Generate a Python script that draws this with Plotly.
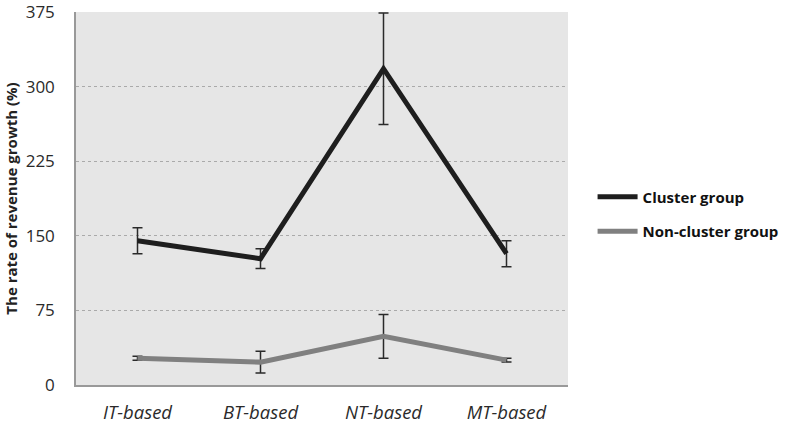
import plotly.graph_objects as go

categories = ["IT-based", "BT-based", "NT-based", "MT-based"]
cluster_vals = [145, 127, 318, 132]
cluster_err = [13, 10, 56, 13]
noncluster_vals = [27, 23, 49, 25]
noncluster_err = [2, 11, 22, 2]
y_ticks = [0, 75, 150, 225, 300, 375]

font = "Open Sans"

fig = go.Figure()
fig.add_trace(go.Scatter(
    x=categories, y=cluster_vals, mode="lines", name="Cluster group", legendgroup="a",
    line=dict(color="#1e1e1e", width=5),
    error_y=dict(type="data", array=cluster_err, color="#2a2a2a", thickness=1.5, width=5),
))
fig.add_trace(go.Scatter(
    x=categories, y=noncluster_vals, mode="lines", name="Non-cluster group", legendgroup="b",
    line=dict(color="#808080", width=5),
    error_y=dict(type="data", array=noncluster_err, color="#2a2a2a", thickness=1.5, width=5),
))

fig.update_layout(
    width=788, height=428,
    margin=dict(l=76, r=220, t=12, b=43, autoexpand=False),
    paper_bgcolor="white", plot_bgcolor="#e6e6e6",
    font=dict(family=font, color="#222"),
    showlegend=True,
    legend=dict(xref="container", yref="container", x=0.752, y=0.5,
                xanchor="left", yanchor="middle",
                font=dict(size=15, family=font, color="#111", weight="bold"),
                bgcolor="rgba(0,0,0,0)", tracegroupgap=12, itemwidth=40),
    xaxis=dict(
        type="category", categoryorder="array", categoryarray=categories,
        showgrid=False, showline=True, linecolor="#999", linewidth=1.5,
        tickfont=dict(size=18.5, style="italic", color="#2a2a2a"),
        ticks="outside", ticklen=10, tickcolor="rgba(0,0,0,0)",
        range=[-0.5, 3.5], automargin=False,
    ),
    yaxis=dict(
        range=[0, 375], tickvals=y_ticks, showgrid=True,
        gridcolor="#aaa", griddash="dot", gridwidth=1,
        showline=True, linecolor="#999", linewidth=1.5, zeroline=False,
        tickfont=dict(size=17, color="#2a2a2a"),
        ticks="outside", ticklen=16, tickcolor="rgba(0,0,0,0)",
        automargin=False, ticklabeloverflow="allow",
        title=dict(text="The rate of revenue growth (%)", font=dict(size=15, color="#222", weight="bold"), standoff=4),
    ),
)

fig.write_html("out.html", config={"displayModeBar": False},
               post_script="document.body.style.margin='0';")
